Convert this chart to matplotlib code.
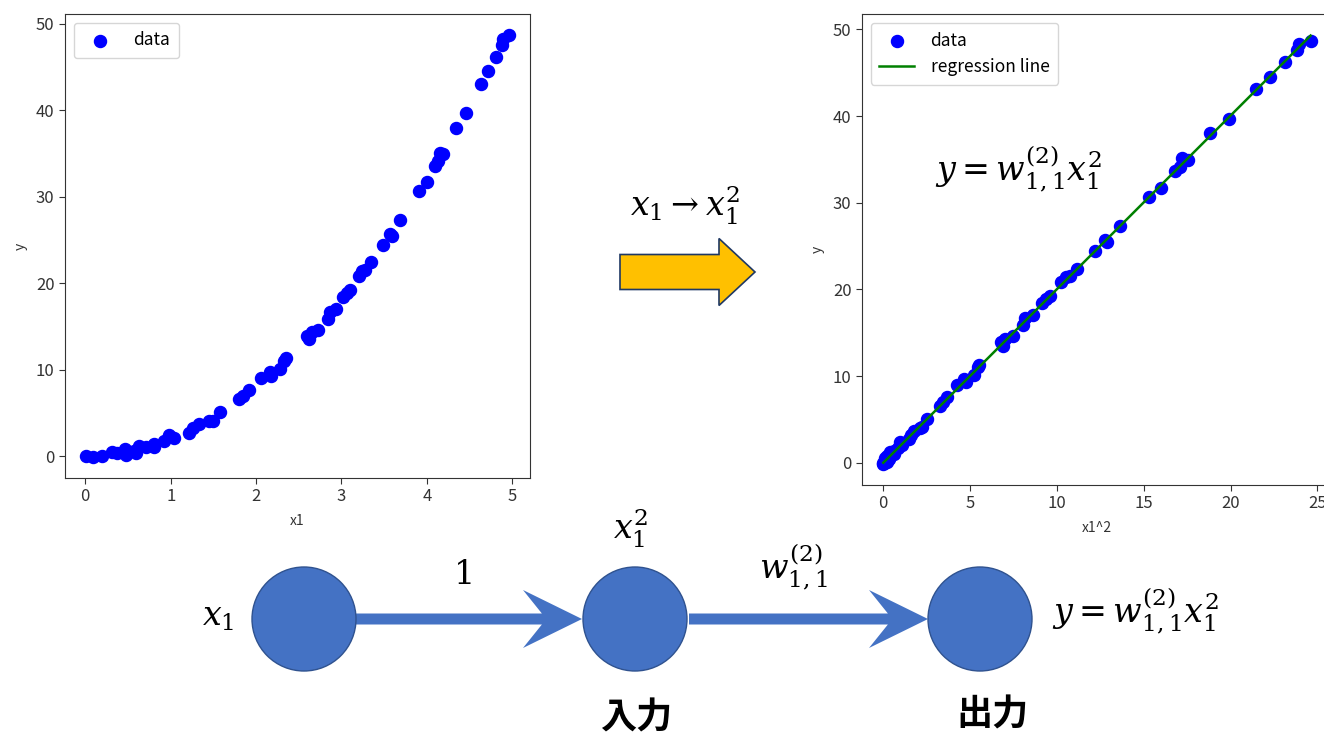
import numpy as np
import matplotlib
matplotlib.use("Agg")
import matplotlib.pyplot as plt
from matplotlib.patches import Circle, FancyArrow

plt.rcParams['font.family'] = ['Noto Sans CJK JP', 'DejaVu Sans']
plt.rcParams['mathtext.fontset'] = 'dejavuserif'

# data (x1, y)
x1 = np.array([0.01, 0.09, 0.19, 0.31, 0.37, 0.47, 0.48, 0.57, 0.59, 0.63,
               0.71, 0.80, 0.80, 0.92, 0.98, 1.04, 1.21, 1.26, 1.33, 1.45,
               1.49, 1.58, 1.80, 1.85, 1.92, 2.06, 2.16, 2.18, 2.28, 2.33,
               2.35, 2.60, 2.62, 2.65, 2.73, 2.84, 2.86, 2.94, 3.02, 3.06,
               3.10, 3.20, 3.24, 3.28, 3.34, 3.49, 3.57, 3.59, 3.69, 3.91,
               4.00, 4.10, 4.13, 4.15, 4.19, 4.34, 4.46, 4.63, 4.72, 4.81,
               4.88, 4.89, 4.96])
y = np.array([0.0, -0.1, 0.0, 0.5, 0.3, 0.8, 0.1, 0.6, 0.4, 1.2,
              1.0, 1.35, 1.0, 1.7, 2.4, 2.1, 2.7, 3.2, 3.7, 4.0,
              4.1, 5.1, 6.6, 7.0, 7.6, 9.0, 9.7, 9.3, 10.1, 11.0,
              11.3, 13.9, 13.5, 14.3, 14.6, 15.9, 16.7, 17.0, 18.4, 18.9,
              19.2, 20.8, 21.4, 21.5, 22.4, 24.4, 25.7, 25.5, 27.3, 30.7,
              31.7, 33.6, 34.1, 35.1, 34.9, 38.0, 39.7, 43.1, 44.5, 46.2,
              47.6, 48.3, 48.7])

node_blue = '#4472C4'
node_edge = '#2F528F'
axis_grey = '#333333'

fig = plt.figure(figsize=(13.24, 7.38), dpi=100)


def style_axes(ax, xlabel):
    ax.set_xlabel(xlabel, fontsize=10, color=axis_grey, labelpad=6)
    ax.set_ylabel('y', fontsize=10, color=axis_grey, labelpad=6)
    ax.tick_params(labelsize=12, colors=axis_grey, length=4)
    for sp in ax.spines.values():
        sp.set_color(axis_grey)
    ax.legend(loc='upper left', fontsize=12.5, handletextpad=0.95, borderpad=0.5)


# left plot: y vs x1
ax1 = fig.add_axes([0.0491, 0.3523, 0.3512, 0.6287])
ax1.scatter(x1, y, s=75, color='blue', label='data')
style_axes(ax1, 'x1')

# right plot: y vs x1^2 with regression through origin
x2 = x1 ** 2
w = np.sum(x2 * y) / np.sum(x2 * x2)
order = np.argsort(x2)
ax2 = fig.add_axes([0.651, 0.3428, 0.355, 0.638])
ax2.scatter(x2, y, s=75, color='blue', label='data')
ax2.plot(x2[order], w * x2[order], color='green', lw=1.8, label='regression line')
style_axes(ax2, 'x1^2')

# overlay in pixel units for the diagram
ov = fig.add_axes([0, 0, 1, 1])
ov.set_xlim(0, 1324)
ov.set_ylim(738, 0)
ov.axis('off')
ov.patch.set_alpha(0)

# yellow transform arrow
ov.add_patch(FancyArrow(620, 272, 135, 0, width=35, head_width=67, head_length=36,
                        length_includes_head=True, fc='#FFC000', ec='#1F3864', lw=1.2))
ov.text(685, 205, r'$x_1 \rightarrow x_1^2$', fontsize=24, ha='center', va='center')
ov.text(1018, 168, r'$y = w_{1,1}^{(2)}x_1^2$', fontsize=24, ha='center', va='center')

# network diagram
for x0, x_tip in [(355, 582), (689, 928)]:
    ov.add_patch(FancyArrow(x0, 619, x_tip - x0, 0, width=11, head_width=58,
                            head_length=59, overhang=0.32, length_includes_head=True,
                            fc=node_blue, ec='none', zorder=2))
for cx in [304, 635, 980]:
    ov.add_patch(Circle((cx, 619), 52, fc=node_blue, ec=node_edge, lw=1, zorder=3))

ov.text(218, 616, r'$x_1$', fontsize=24, ha='center', va='center')
ov.text(462, 574, r'$1$', fontsize=24, ha='center', va='center')
ov.text(630, 528, r'$x_1^2$', fontsize=24, ha='center', va='center')
ov.text(793, 566, r'$w_{1,1}^{(2)}$', fontsize=24, ha='center', va='center')
ov.text(1135, 610, r'$y = w_{1,1}^{(2)}x_1^2$', fontsize=24, ha='center', va='center')
ov.text(636, 718, '入力', fontsize=26, fontweight='bold', ha='center', va='center')
ov.text(992, 715, '出力', fontsize=26, fontweight='bold', ha='center', va='center')

fig.savefig('out.png', dpi=100)
